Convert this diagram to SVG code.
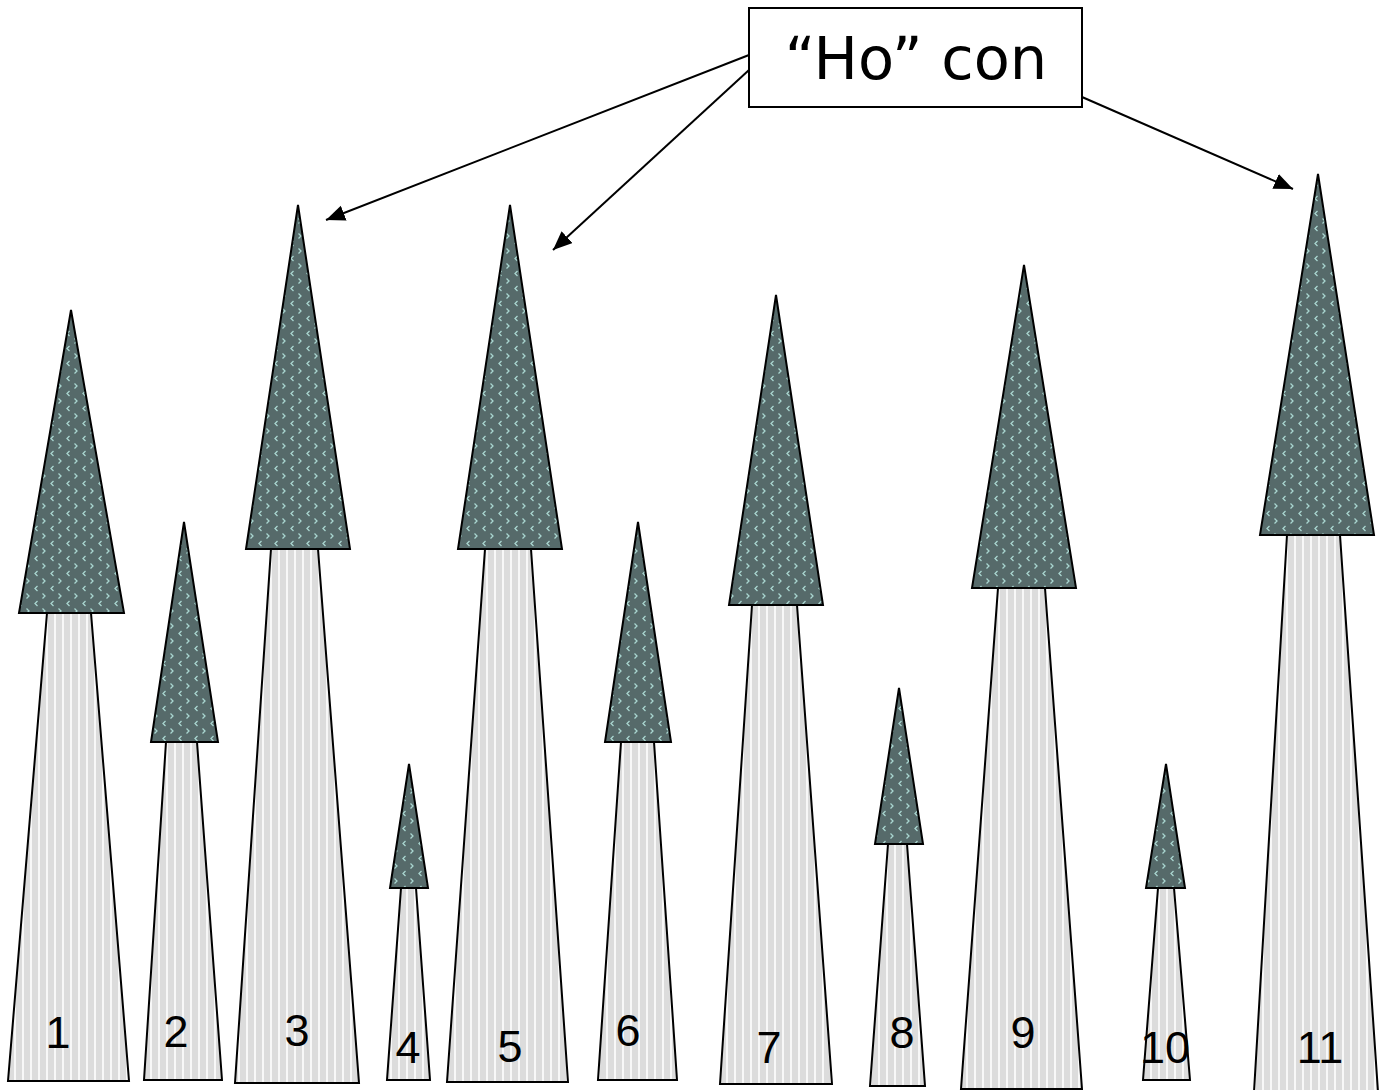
<svg xmlns="http://www.w3.org/2000/svg" width="1380" height="1090" viewBox="0 0 1380 1090">
<style>
.trunk{fill:url(#stripes);stroke:#000;stroke-width:2;stroke-linejoin:miter}
.crown{fill:url(#dots);stroke:#000;stroke-width:2;stroke-linejoin:miter}
.num{font-family:"Liberation Sans",Arial,sans-serif;font-size:45px;fill:#000;text-anchor:middle}
.lbl{font-family:"DejaVu Sans","Noto Sans",sans-serif;font-size:59px;fill:#000;text-anchor:middle}
.conn{stroke:#000;stroke-width:2;fill:none;marker-end:url(#ah)}
</style>
<defs>
<pattern id="stripes" patternUnits="userSpaceOnUse" width="8" height="8">
<rect width="8" height="8" fill="#dcdcdc"/>
<rect x="6" width="2" height="8" fill="#f8f8f8"/>
</pattern>
<pattern id="dots" patternUnits="userSpaceOnUse" width="16" height="15">
<rect width="16" height="15" fill="#566a6a"/>
<path d="M5.5 1 L3 3.5 L5.5 6" stroke="#a9d6d0" stroke-width="1.3" fill="none"/>
<path d="M10.5 8.5 L13 11 L10.5 13.5" stroke="#a9d6d0" stroke-width="1.3" fill="none"/>
</pattern>
<marker id="ah" markerUnits="userSpaceOnUse" markerWidth="22" markerHeight="18" refX="19" refY="8" orient="auto">
<path d="M0 0 L19 8 L0 16 Z" fill="#000"/>
</marker>
</defs>
<rect width="1380" height="1090" fill="#fff"/>
<g id="tree1">
<polygon class="trunk" points="47,613 91,613 129,1081 8,1081"/>
<polygon class="crown" points="71,310 124,613 19,613"/>
<text class="num" x="58" y="1048">1</text>
</g>
<g id="tree2">
<polygon class="trunk" points="166,742 197,742 222,1080 144,1080"/>
<polygon class="crown" points="184,522 218,742 151,742"/>
<text class="num" x="176" y="1047">2</text>
</g>
<g id="tree3">
<polygon class="trunk" points="271,549 318,549 359,1083 235,1083"/>
<polygon class="crown" points="298,205 350,549 246,549"/>
<text class="num" x="297" y="1046">3</text>
</g>
<g id="tree4">
<polygon class="trunk" points="401,888 416,888 430,1080 387,1080"/>
<polygon class="crown" points="409,764 428,888 390,888"/>
<text class="num" x="408" y="1063">4</text>
</g>
<g id="tree5">
<polygon class="trunk" points="485,549 531,549 568,1082 447,1082"/>
<polygon class="crown" points="510,205 562,549 458,549"/>
<text class="num" x="510" y="1062">5</text>
</g>
<g id="tree6">
<polygon class="trunk" points="621,742 654,742 677,1080 598,1080"/>
<polygon class="crown" points="638,522 671,742 605,742"/>
<text class="num" x="628" y="1046">6</text>
</g>
<g id="tree7">
<polygon class="trunk" points="752,605 797,605 832,1084 720,1084"/>
<polygon class="crown" points="776,295 823,605 729,605"/>
<text class="num" x="769" y="1063">7</text>
</g>
<g id="tree8">
<polygon class="trunk" points="888,844 907,844 925,1086 870,1086"/>
<polygon class="crown" points="899,688 923,844 875,844"/>
<text class="num" x="902" y="1048">8</text>
</g>
<g id="tree9">
<polygon class="trunk" points="998,588 1045,588 1082,1089 961,1089"/>
<polygon class="crown" points="1024,265 1076,588 972,588"/>
<text class="num" x="1023" y="1048">9</text>
</g>
<g id="tree10">
<polygon class="trunk" points="1158,888 1174,888 1190,1080 1143,1080"/>
<polygon class="crown" points="1166,764 1185,888 1146,888"/>
<text class="num" x="1165" y="1063">10</text>
</g>
<g id="tree11">
<polygon class="trunk" points="1287,535 1340,535 1378,1092 1254,1092"/>
<polygon class="crown" points="1318,174 1374,535 1260,535"/>
<text class="num" x="1320" y="1063">11</text>
</g>
<g id="label">
<rect x="749" y="8" width="333" height="99" fill="#fff" stroke="#000" stroke-width="2"/>
<text class="lbl" x="916" y="79">“Ho” con</text>
</g>
<g id="connectors">
<line class="conn" x1="749" y1="55" x2="326" y2="220"/>
<line class="conn" x1="749" y1="70" x2="553" y2="250"/>
<line class="conn" x1="1082" y1="97" x2="1293" y2="189"/>
</g>
</svg>
